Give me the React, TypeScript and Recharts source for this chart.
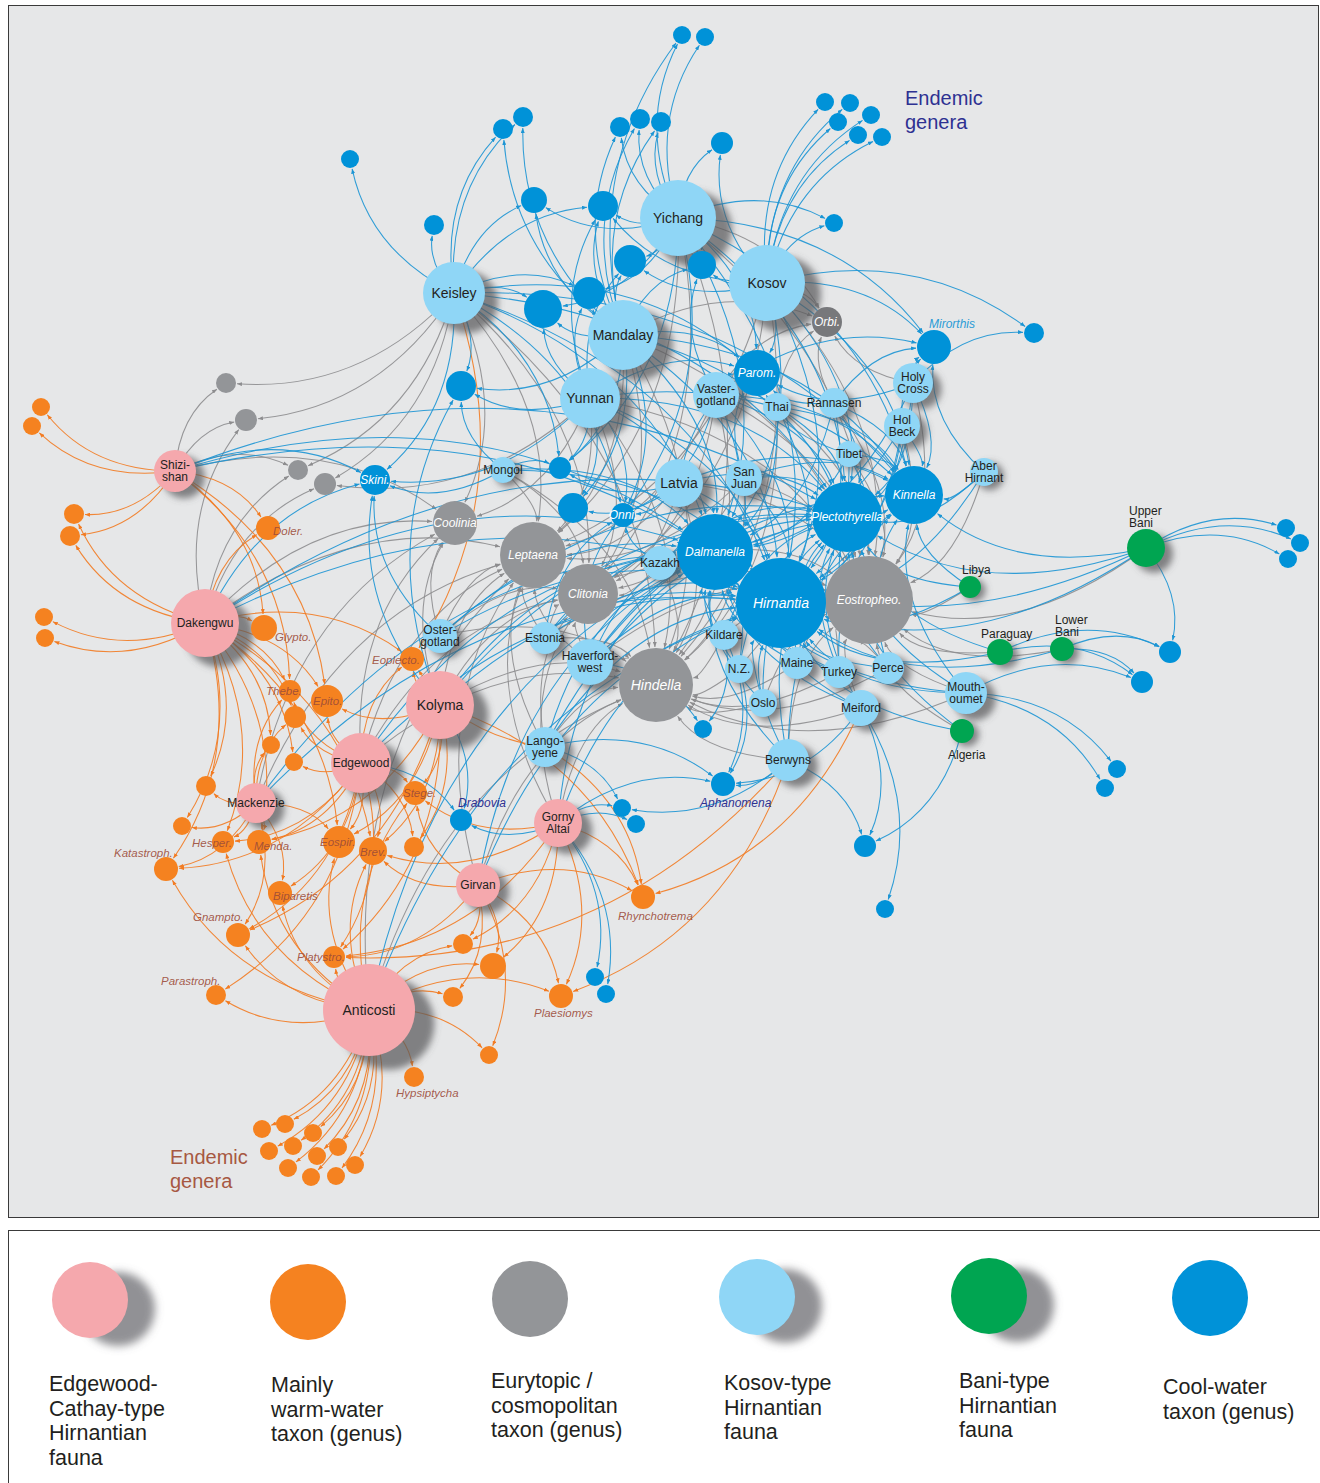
import { ScatterChart, Scatter, XAxis, YAxis, ZAxis, ReferenceLine } from 'recharts';

type Node = { id: string; x: number; y: number; w: number; label?: string };

// fauna (assemblages)
const edgewoodFauna: Node[] = [
  { id: 'shi', label: 'Shizi-\nshan', x: 175, y: 471, w: 21 },
  { id: 'dak', label: 'Dakengwu', x: 205, y: 623, w: 34 },
  { id: 'kol', label: 'Kolyma', x: 440, y: 705, w: 34 },
  { id: 'edg', label: 'Edgewood', x: 361, y: 763, w: 30 },
  { id: 'mac', label: 'Mackenzie', x: 256, y: 803, w: 20 },
  { id: 'gor', label: 'Gorny\nAltai', x: 558, y: 823, w: 24 },
  { id: 'gir', label: 'Girvan', x: 478, y: 885, w: 22 },
  { id: 'ant', label: 'Anticosti', x: 369, y: 1010, w: 46 },
];

const kosovFauna: Node[] = [
  { id: 'kei', label: 'Keisley', x: 454, y: 293, w: 31 },
  { id: 'yic', label: 'Yichang', x: 678, y: 218, w: 38 },
  { id: 'kos', label: 'Kosov', x: 767, y: 283, w: 38 },
  { id: 'man', label: 'Mandalay', x: 623, y: 335, w: 35 },
  { id: 'yun', label: 'Yunnan', x: 590, y: 398, w: 30 },
  { id: 'vas', label: 'Vaster-\ngotland', x: 716, y: 395, w: 23 },
  { id: 'tha', label: 'Thai', x: 777, y: 407, w: 14 },
  { id: 'ran', label: 'Rannasen', x: 834, y: 403, w: 15 },
  { id: 'hcr', label: 'Holy\nCross', x: 913, y: 383, w: 20 },
  { id: 'hbk', label: 'Hol\nBeck', x: 902, y: 426, w: 18 },
  { id: 'tib', label: 'Tibet', x: 849, y: 454, w: 13 },
  { id: 'abe', label: 'Aber\nHirnant', x: 984, y: 472, w: 14 },
  { id: 'mon', label: 'Mongol', x: 503, y: 470, w: 13 },
  { id: 'lat', label: 'Latvia', x: 679, y: 483, w: 24 },
  { id: 'sjn', label: 'San\nJuan', x: 744, y: 478, w: 18 },
  { id: 'kaz', label: 'Kazakh', x: 660, y: 563, w: 17 },
  { id: 'ost', label: 'Oster-\ngotland', x: 440, y: 636, w: 17 },
  { id: 'est', label: 'Estonia', x: 545, y: 638, w: 16 },
  { id: 'hav', label: 'Haverford-\nwest', x: 590, y: 662, w: 23 },
  { id: 'kil', label: 'Kildare', x: 724, y: 635, w: 15 },
  { id: 'nz', label: 'N.Z.', x: 739, y: 669, w: 14 },
  { id: 'mai', label: 'Maine', x: 797, y: 663, w: 16 },
  { id: 'tur', label: 'Turkey', x: 839, y: 672, w: 16 },
  { id: 'per', label: 'Perce', x: 888, y: 668, w: 16 },
  { id: 'osl', label: 'Oslo', x: 763, y: 703, w: 14 },
  { id: 'mei', label: 'Meiford', x: 861, y: 708, w: 18 },
  { id: 'mou', label: 'Mouth-\noumet', x: 966, y: 693, w: 21 },
  { id: 'lan', label: 'Lango-\nyene', x: 545, y: 747, w: 20 },
  { id: 'ber', label: 'Berwyns', x: 788, y: 760, w: 21 },
];

const baniFauna: Node[] = [
  { id: 'upb', label: 'Upper\nBani', x: 1146, y: 548, w: 19 },
  { id: 'lib', label: 'Libya', x: 970, y: 587, w: 11 },
  { id: 'prg', label: 'Paraguay', x: 1000, y: 652, w: 13 },
  { id: 'lob', label: 'Lower\nBani', x: 1062, y: 649, w: 12 },
  { id: 'alg', label: 'Algeria', x: 962, y: 731, w: 12 },
];

// genera
const warmTaxa: Node[] = [
  { id: 'dol', label: 'Doler.', x: 268, y: 528, w: 12 },
  { id: 'gly', label: 'Glypto.', x: 264, y: 628, w: 13 },
  { id: 'the', label: 'Thebe.', x: 290, y: 691, w: 11 },
  { id: 'epi', label: 'Epito.', x: 327, y: 701, w: 16 },
  { id: 'eop', label: 'Eoplecto.', x: 412, y: 659, w: 12 },
  { id: 'ste', label: 'Stege.', x: 415, y: 793, w: 12 },
  { id: 'hes', label: 'Hesper.', x: 223, y: 842, w: 11 },
  { id: 'men', label: 'Menda.', x: 259, y: 842, w: 12 },
  { id: 'esp', label: 'Eospir.', x: 339, y: 842, w: 16 },
  { id: 'bre', label: 'Brev.', x: 373, y: 851, w: 14 },
  { id: 'kat', label: 'Katastroph.', x: 166, y: 869, w: 12 },
  { id: 'bip', label: 'Biparetis', x: 280, y: 893, w: 12 },
  { id: 'gna', label: 'Gnampto.', x: 238, y: 935, w: 12 },
  { id: 'pla', label: 'Platystro.', x: 334, y: 957, w: 11 },
  { id: 'pst', label: 'Parastroph.', x: 216, y: 995, w: 10 },
  { id: 'rhy', label: 'Rhynchotrema', x: 643, y: 897, w: 12 },
  { id: 'plm', label: 'Plaesiomys', x: 561, y: 996, w: 12 },
  { id: 'hyp', label: 'Hypsiptycha', x: 414, y: 1077, w: 10 },
  { id: 'w1', x: 41, y: 407, w: 9 },
  { id: 'w2', x: 32, y: 426, w: 9 },
  { id: 'w3', x: 74, y: 514, w: 10 },
  { id: 'w4', x: 70, y: 536, w: 10 },
  { id: 'w5', x: 44, y: 617, w: 9 },
  { id: 'w6', x: 45, y: 638, w: 9 },
  { id: 'o1', x: 295, y: 717, w: 11 },
  { id: 'o2', x: 271, y: 745, w: 9 },
  { id: 'o3', x: 294, y: 762, w: 9 },
  { id: 'o4', x: 206, y: 786, w: 10 },
  { id: 'o5', x: 182, y: 826, w: 9 },
  { id: 'o6', x: 414, y: 847, w: 10 },
  { id: 'o7', x: 463, y: 944, w: 10 },
  { id: 'o8', x: 493, y: 966, w: 13 },
  { id: 'o9', x: 453, y: 997, w: 10 },
  { id: 'o10', x: 489, y: 1055, w: 9 },
  { id: 'n1', x: 262, y: 1129, w: 9 },
  { id: 'n2', x: 285, y: 1124, w: 9 },
  { id: 'n3', x: 313, y: 1133, w: 9 },
  { id: 'n4', x: 269, y: 1151, w: 9 },
  { id: 'n5', x: 293, y: 1146, w: 9 },
  { id: 'n6', x: 317, y: 1156, w: 9 },
  { id: 'n7', x: 338, y: 1147, w: 9 },
  { id: 'n8', x: 355, y: 1165, w: 9 },
  { id: 'n9', x: 288, y: 1168, w: 9 },
  { id: 'n10', x: 311, y: 1177, w: 9 },
  { id: 'n11', x: 336, y: 1176, w: 9 },
];

const eurytopicTaxa: Node[] = [
  { id: 'orb', label: 'Orbi.', x: 827, y: 322, w: 15 },
  { id: 'coo', label: 'Coolinia', x: 455, y: 523, w: 22 },
  { id: 'lep', label: 'Leptaena', x: 533, y: 555, w: 33 },
  { id: 'cli', label: 'Clitonia', x: 588, y: 594, w: 30 },
  { id: 'hin', label: 'Hindella', x: 656, y: 685, w: 37 },
  { id: 'eos', label: 'Eostropheo.', x: 869, y: 600, w: 44 },
  { id: 'g1', x: 226, y: 383, w: 10 },
  { id: 'g2', x: 246, y: 420, w: 11 },
  { id: 'g3', x: 298, y: 470, w: 10 },
  { id: 'g4', x: 325, y: 484, w: 11 },
];

const coolTaxa: Node[] = [
  { id: 'hir', label: 'Hirnantia', x: 781, y: 603, w: 45 },
  { id: 'dal', label: 'Dalmanella', x: 715, y: 552, w: 38 },
  { id: 'ple', label: 'Plectothyrella', x: 847, y: 517, w: 35 },
  { id: 'kin', label: 'Kinnella', x: 914, y: 495, w: 29 },
  { id: 'par', label: 'Parom.', x: 757, y: 373, w: 23 },
  { id: 'mir', label: 'Mirorthis', x: 934, y: 347, w: 17 },
  { id: 'ski', label: 'Skini.', x: 375, y: 480, w: 15 },
  { id: 'onn', label: 'Onni.', x: 623, y: 515, w: 12 },
  { id: 'dra', label: 'Drabovia', x: 461, y: 820, w: 11 },
  { id: 'aph', label: 'Aphanomena', x: 723, y: 784, w: 12 },
  { id: 't1', x: 682, y: 35, w: 9 },
  { id: 't2', x: 705, y: 37, w: 9 },
  { id: 't3', x: 503, y: 129, w: 10 },
  { id: 't4', x: 523, y: 117, w: 10 },
  { id: 't5', x: 620, y: 127, w: 10 },
  { id: 't6', x: 640, y: 119, w: 10 },
  { id: 't7', x: 661, y: 122, w: 10 },
  { id: 't8', x: 722, y: 143, w: 11 },
  { id: 't9', x: 350, y: 159, w: 9 },
  { id: 't10', x: 434, y: 225, w: 10 },
  { id: 't11', x: 534, y: 200, w: 13 },
  { id: 't12', x: 603, y: 206, w: 15 },
  { id: 't13', x: 630, y: 261, w: 16 },
  { id: 't14', x: 702, y: 265, w: 14 },
  { id: 't15', x: 543, y: 309, w: 19 },
  { id: 't16', x: 589, y: 293, w: 16 },
  { id: 't17', x: 461, y: 386, w: 15 },
  { id: 'e1', x: 825, y: 102, w: 9 },
  { id: 'e2', x: 850, y: 103, w: 9 },
  { id: 'e3', x: 871, y: 115, w: 9 },
  { id: 'e4', x: 838, y: 122, w: 9 },
  { id: 'e5', x: 858, y: 135, w: 9 },
  { id: 'e6', x: 882, y: 137, w: 9 },
  { id: 'bk', x: 834, y: 223, w: 9 },
  { id: 'bm', x: 1034, y: 333, w: 10 },
  { id: 'c1', x: 560, y: 468, w: 11 },
  { id: 'c2', x: 573, y: 508, w: 15 },
  { id: 'u1', x: 1286, y: 528, w: 9 },
  { id: 'u2', x: 1300, y: 543, w: 9 },
  { id: 'u3', x: 1288, y: 559, w: 9 },
  { id: 'l1', x: 1170, y: 652, w: 11 },
  { id: 'l2', x: 1142, y: 682, w: 11 },
  { id: 'm1', x: 1117, y: 769, w: 9 },
  { id: 'm2', x: 1105, y: 788, w: 9 },
  { id: 'h1', x: 703, y: 729, w: 9 },
  { id: 'gg1', x: 622, y: 808, w: 9 },
  { id: 'gg2', x: 636, y: 824, w: 9 },
  { id: 's1', x: 865, y: 846, w: 11 },
  { id: 's2', x: 885, y: 909, w: 9 },
  { id: 'a1', x: 595, y: 977, w: 9 },
  { id: 'a2', x: 606, y: 994, w: 9 },
];

// fauna -> genera occurrences
const links: [string, string[]][] = [
  ['shi', ['w1', 'w2', 'w3', 'w4', 'g1', 'g2', 'g3', 'dol', 'gly', 'the', 'coo', 'hir', 'dal', 'ple', 'ski', 'epi']],
  ['dak', ['w3', 'w4', 'w5', 'w6', 'gly', 'dol', 'the', 'epi', 'o1', 'o2', 'o3', 'o4', 'o5', 'kat', 'hes', 'men', 'esp', 'bre', 'eop', 'coo', 'lep', 'g2', 'g3', 'g4', 'hir', 'dal', 'ple', 'ski']],
  ['mac', ['the', 'o1', 'o2', 'o4', 'o5', 'hes', 'men', 'kat', 'bip', 'esp', 'gna', 'hir', 'dal', 'lep', 'coo']],
  ['edg', ['epi', 'the', 'o1', 'o3', 'ste', 'esp', 'bre', 'men', 'hes', 'bip', 'gna', 'pla', 'pst', 'o6', 'kat', 'eop', 'dra', 'hir', 'dal', 'lep', 'cli', 'hin', 'coo']],
  ['kol', ['eop', 'epi', 'ste', 'o6', 'bre', 'esp', 'men', 'pla', 'gna', 'rhy', 'dra', 'hir', 'dal', 'ple', 'lep', 'cli', 'hin', 'coo', 'ski', 't17']],
  ['gir', ['o7', 'o8', 'o9', 'o10', 'plm', 'pla', 'bre', 'ste', 'rhy', 'hir', 'dal', 'lep', 'hin']],
  ['gor', ['gg1', 'gg2', 'dra', 'aph', 'rhy', 'o7', 'o8', 'plm', 'pla', 'bre', 'ste', 'a1', 'a2', 'hir', 'dal', 'lep', 'cli', 'hin']],
  ['ant', ['n1', 'n2', 'n3', 'n4', 'n5', 'n6', 'n7', 'n8', 'n9', 'n10', 'n11', 'hyp', 'pla', 'pst', 'gna', 'bip', 'o7', 'o8', 'o9', 'o10', 'esp', 'bre', 'plm', 'kat', 'men', 'hes', 'ste', 'hir', 'dal', 'lep', 'hin']],
  ['kei', ['t9', 't10', 't3', 't4', 't11', 't15', 't16', 't17', 't12', 'ski', 'g1', 'g2', 'g3', 'g4', 'coo', 'lep', 'cli', 'hin', 'hir', 'dal', 'ple', 'par', 'onn', 'c1', 'eop', 'kin']],
  ['yic', ['t1', 't2', 't5', 't6', 't7', 't8', 't11', 't12', 't13', 't14', 't15', 't16', 'par', 'mir', 'orb', 'hir', 'dal', 'ple', 'kin', 'lep', 'cli', 'hin', 'eos', 'onn', 'c1', 'bk']],
  ['kos', ['e1', 'e2', 'e3', 'e4', 'e5', 'e6', 'bk', 't8', 't13', 't14', 'mir', 'orb', 'par', 'bm', 'hir', 'dal', 'ple', 'kin', 'eos', 'hin', 'cli', 'lep', 't12']],
  ['man', ['t1', 't3', 't4', 't5', 't6', 't7', 't11', 't12', 't13', 't14', 't15', 't16', 't17', 'par', 'hir', 'dal', 'ple', 'kin', 'lep', 'cli', 'hin', 'eos', 'onn', 'c1', 'c2', 'orb']],
  ['yun', ['t17', 't15', 't16', 't13', 'c1', 'c2', 'onn', 'ski', 'par', 'hir', 'dal', 'ple', 'kin', 'lep', 'cli', 'hin', 'eos', 'coo', 'g4', 't12']],
  ['vas', ['par', 'hir', 'dal', 'ple', 'kin', 'lep', 'cli', 'hin', 'eos', 'orb', 't14', 'onn', 'mir']],
  ['tha', ['par', 'hir', 'dal', 'ple', 'kin', 'hin', 'eos', 'orb']],
  ['ran', ['hir', 'dal', 'ple', 'kin', 'mir', 'eos', 'orb', 'par']],
  ['hcr', ['mir', 'kin', 'ple', 'hir', 'dal', 'eos', 'bm', 'orb', 'par']],
  ['hbk', ['mir', 'kin', 'ple', 'hir', 'eos', 'dal']],
  ['tib', ['hir', 'ple', 'kin', 'dal', 'eos', 'par']],
  ['abe', ['kin', 'ple', 'hir', 'mir', 'eos']],
  ['mon', ['ski', 't17', 'c1', 'lep', 'cli', 'hin', 'hir', 'dal']],
  ['lat', ['hir', 'dal', 'ple', 'kin', 'par', 'lep', 'cli', 'hin', 'eos', 'onn', 'c2', 'c1']],
  ['sjn', ['hir', 'dal', 'ple', 'kin', 'par', 'lep', 'cli', 'hin', 'eos']],
  ['kaz', ['hir', 'dal', 'ple', 'lep', 'cli', 'hin', 'eos', 'onn']],
  ['ost', ['lep', 'cli', 'hin', 'hir', 'dal', 'ple', 'coo', 'ski']],
  ['est', ['lep', 'cli', 'hin', 'hir', 'dal', 'ple', 'eos', 'onn']],
  ['hav', ['lep', 'cli', 'hin', 'hir', 'dal', 'ple', 'kin', 'eos', 'h1', 'onn']],
  ['kil', ['hir', 'dal', 'ple', 'hin', 'eos', 'h1', 'aph']],
  ['nz', ['hir', 'dal', 'ple', 'eos', 'hin', 'aph']],
  ['mai', ['hir', 'dal', 'ple', 'eos', 'hin', 'kin']],
  ['tur', ['hir', 'dal', 'ple', 'eos', 'hin', 'kin']],
  ['per', ['hir', 'ple', 'eos', 'kin', 'hin']],
  ['osl', ['hir', 'dal', 'ple', 'hin', 'eos']],
  ['mei', ['hir', 'dal', 'ple', 'eos', 'hin', 's1', 's2', 'rhy', 'aph']],
  ['mou', ['m1', 'm2', 'l2', 'hir', 'eos', 'ple', 'kin', 'dal', 'hin']],
  ['lan', ['hir', 'dal', 'ple', 'lep', 'cli', 'hin', 'aph', 'gg1', 'rhy', 'eop']],
  ['ber', ['aph', 's1', 'hir', 'dal', 'ple', 'kin', 'eos', 'hin', 'plm', 'pla', 'gg1']],
  ['upb', ['u1', 'u2', 'u3', 'l1', 'kin', 'ple', 'hir', 'eos', 'dal']],
  ['lib', ['hir', 'ple', 'eos', 'kin']],
  ['prg', ['hir', 'eos', 'ple', 'l1', 'l2']],
  ['lob', ['l1', 'l2', 'hir', 'eos']],
  ['alg', ['s1', 'hir', 'eos', 'ple']],
];

const COLORS = {
  edgewood: '#f5a8ad',
  warm: '#f58220',
  eury: '#939598',
  kosov: '#8fd6f6',
  bani: '#00a551',
  cool: '#0092d8',
};
const EDGE_COLORS: Record<string, string> = { warm: '#f27b22', eury: '#8d8d8f', cool: '#1c95d4' };
const FONT = '"Liberation Sans", Arial, Helvetica, sans-serif';
const BEND = 0.24;

// label placement for labels drawn beside their node
const labelPos: Record<string, { dx: number; dy: number }> = {
  dol: { dx: 5, dy: 3 },
  gly: { dx: 11, dy: 9 },
  the: { dx: -24, dy: 0 },
  epi: { dx: -14, dy: 0 },
  eop: { dx: -40, dy: 1 },
  ste: { dx: -12, dy: 0 },
  hes: { dx: -31, dy: 1 },
  men: { dx: -5, dy: 4 },
  esp: { dx: -19, dy: 0 },
  bre: { dx: -13, dy: 1 },
  kat: { dx: -52, dy: -16 },
  bip: { dx: -7, dy: 3 },
  gna: { dx: -45, dy: -18 },
  pla: { dx: -37, dy: 0 },
  pst: { dx: -55, dy: -14 },
  rhy: { dx: -25, dy: 19 },
  plm: { dx: -27, dy: 17 },
  hyp: { dx: -18, dy: 16 },
  mir: { dx: -5, dy: -23 },
  dra: { dx: -3, dy: -17 },
  aph: { dx: -23, dy: 19 },
  upb: { dx: -17, dy: -31 },
  lib: { dx: -8, dy: -17 },
  prg: { dx: -19, dy: -18 },
  lob: { dx: -7, dy: -23 },
  alg: { dx: -14, dy: 24 },
};
const labelColor: Record<string, string> = { mir: '#2a9bd6', dra: '#2e3192', aph: '#2e3192' };
const fillOverride: Record<string, string> = { orb: '#77787b' };
const bigLabels = ['kei', 'yic', 'kos', 'man', 'yun', 'kol', 'ant', 'lat', 'hir', 'hin'];

const legendItems = [
  { lines: ['Edgewood-', 'Cathay-type', 'Hirnantian', 'fauna'], color: COLORS.edgewood, shadow: true },
  { lines: ['Mainly', 'warm-water', 'taxon (genus)'], color: COLORS.warm, shadow: false },
  { lines: ['Eurytopic /', 'cosmopolitan', 'taxon (genus)'], color: COLORS.eury, shadow: false },
  { lines: ['Kosov-type', 'Hirnantian', 'fauna'], color: COLORS.kosov, shadow: true },
  { lines: ['Bani-type', 'Hirnantian', 'fauna'], color: COLORS.bani, shadow: true },
  { lines: ['Cool-water', 'taxon (genus)'], color: COLORS.cool, shadow: false },
];
const legendLayout = [
  { cx: 90, cy: 1300, tx: 49, ty: 1384 },
  { cx: 308, cy: 1302, tx: 271, ty: 1385 },
  { cx: 530, cy: 1299, tx: 491, ty: 1381 },
  { cx: 757, cy: 1297, tx: 724, ty: 1383 },
  { cx: 989, cy: 1296, tx: 959, ty: 1381 },
  { cx: 1210, cy: 1298, tx: 1163, ty: 1387 },
];

const typeOf: Record<string, string> = {};
const nodeById: Record<string, Node> = {};
[
  ['edgewood', edgewoodFauna],
  ['kosov', kosovFauna],
  ['bani', baniFauna],
  ['warm', warmTaxa],
  ['eury', eurytopicTaxa],
  ['cool', coolTaxa],
].forEach(([t, list]: any) => {
  list.forEach((n: Node) => {
    typeOf[n.id] = t;
    nodeById[n.id] = n;
  });
});

const edges = links.flatMap(([from, targets]) =>
  targets.map((to) => ({ from: nodeById[from], to: nodeById[to], kind: typeOf[to] }))
);
const edgeOrder = ['eury', 'warm', 'cool'];
edges.sort((a, b) => edgeOrder.indexOf(a.kind) - edgeOrder.indexOf(b.kind));

const CurvedEdge = ({ x1, y1, x2, y2, tr, kind }: any) => {
  const dx = x2 - x1;
  const dy = y2 - y1;
  const qx = (x1 + x2) / 2 + dy * BEND;
  const qy = (y1 + y2) / 2 - dx * BEND;
  const tx = x2 - qx;
  const ty = y2 - qy;
  const tl = Math.hypot(tx, ty) || 1;
  const ex = x2 - (tx / tl) * (tr + 1);
  const ey = y2 - (ty / tl) * (tr + 1);
  return (
    <path
      d={`M${x1},${y1} Q${qx},${qy} ${ex},${ey}`}
      fill="none"
      stroke={EDGE_COLORS[kind]}
      strokeWidth={1.05}
      strokeOpacity={0.9}
      markerEnd={`url(#arrow-${kind})`}
    />
  );
};

const makeNode = (fill: string, kind: 'fauna' | 'warm' | 'genus') => (props: any) => {
  const { cx, cy, payload } = props;
  const r = props.size ?? payload.w;
  const lines: string[] = payload.label ? payload.label.split('\n') : [];
  const pos = labelPos[payload.id];
  const fs = bigLabels.includes(payload.id) ? 14 : kind === 'warm' ? 11.5 : 12;
  const color =
    labelColor[payload.id] ?? (kind === 'fauna' ? '#231f20' : kind === 'warm' ? '#9c4b38' : '#ffffff');
  const tx = cx + (pos ? pos.dx : 0);
  const ty = cy + (pos ? pos.dy : 0) - ((lines.length - 1) * fs * 1.08) / 2;
  return (
    <g>
      <circle cx={cx} cy={cy} r={r} fill={fillOverride[payload.id] ?? fill} />
      {lines.length > 0 && (
        <text
          x={tx}
          y={ty}
          textAnchor={pos ? 'start' : 'middle'}
          dominantBaseline="central"
          fontSize={fs}
          fontStyle={kind === 'fauna' ? 'normal' : 'italic'}
          fill={color}
          fillOpacity={kind === 'warm' ? 0.9 : 1}
          fontFamily={FONT}
        >
          {lines.map((l, i) => (
            <tspan key={i} x={tx} dy={i === 0 ? 0 : fs * 1.08}>
              {l}
            </tspan>
          ))}
        </text>
      )}
    </g>
  );
};

const ShadowShape = (props: any) => {
  const r = props.size ?? props.payload.w;
  return (
    <circle
      cx={props.cx + r * 0.42}
      cy={props.cy + r * 0.3}
      r={r}
      fill="#58595b"
      fillOpacity={0.72}
      filter="url(#nodeShadow)"
    />
  );
};

const NetworkChart = () => (
  <ScatterChart width={1320} height={1220} margin={{ top: 0, right: 0, bottom: 0, left: 0 }}>
    <XAxis type="number" dataKey="x" domain={[0, 1320]} hide allowDataOverflow />
    <YAxis type="number" dataKey="y" domain={[0, 1220]} reversed hide allowDataOverflow />
    <ZAxis type="number" dataKey="w" domain={[0, 50]} range={[0, 50]} />
    {edges.map((e, i) => (
      <ReferenceLine
        key={`edge-${i}`}
        segment={[
          { x: e.from.x, y: e.from.y },
          { x: e.to.x, y: e.to.y },
        ]}
        ifOverflow="visible"
        shape={(p: any) => <CurvedEdge {...p} tr={e.to.w} kind={e.kind} />}
      />
    ))}
    <Scatter data={[...edgewoodFauna, ...kosovFauna, ...baniFauna]} shape={ShadowShape} isAnimationActive={false} />
    <Scatter data={eurytopicTaxa} shape={makeNode(COLORS.eury, 'genus')} isAnimationActive={false} />
    <Scatter data={coolTaxa} shape={makeNode(COLORS.cool, 'genus')} isAnimationActive={false} />
    <Scatter data={warmTaxa} shape={makeNode(COLORS.warm, 'warm')} isAnimationActive={false} />
    <Scatter data={baniFauna} shape={makeNode(COLORS.bani, 'fauna')} isAnimationActive={false} />
    <Scatter data={edgewoodFauna} shape={makeNode(COLORS.edgewood, 'fauna')} isAnimationActive={false} />
    <Scatter data={kosovFauna} shape={makeNode(COLORS.kosov, 'fauna')} isAnimationActive={false} />
  </ScatterChart>
);

const App = () => {
  return (
    <div style={{ position: 'absolute', left: 0, top: 0, width: 1320, height: 1483, background: '#fff', overflow: 'hidden', fontFamily: FONT }}>
      <svg width={0} height={0} style={{ position: 'absolute' }}>
        <defs>
          <filter id="nodeShadow" x="-50%" y="-50%" width="200%" height="200%">
            <feGaussianBlur stdDeviation={3.5} />
          </filter>
          <filter id="legendShadow" x="-50%" y="-50%" width="200%" height="200%">
            <feGaussianBlur stdDeviation={4.5} />
          </filter>
          {Object.keys(EDGE_COLORS).map((k) => (
            <marker
              key={k}
              id={`arrow-${k}`}
              markerWidth={5}
              markerHeight={4}
              refX={5}
              refY={2}
              orient="auto"
              markerUnits="userSpaceOnUse"
            >
              <path d="M0,0 L5,2 L0,4 z" fill={EDGE_COLORS[k]} />
            </marker>
          ))}
        </defs>
      </svg>

      <div
        style={{
          position: 'absolute',
          left: 8,
          top: 5,
          width: 1311,
          height: 1213,
          boxSizing: 'border-box',
          border: '1.5px solid #3a3a3a',
          background: '#e6e7e8',
        }}
      />
      <div style={{ position: 'absolute', left: 0, top: 0 }}>
        <NetworkChart />
      </div>

      <div style={{ position: 'absolute', left: 905, top: 86, color: '#2e3192', fontSize: 20, lineHeight: '24px' }}>
        Endemic
        <br />
        genera
      </div>
      <div style={{ position: 'absolute', left: 170, top: 1145, color: '#a65842', fontSize: 20, lineHeight: '24px' }}>
        Endemic
        <br />
        genera
      </div>

      <div
        style={{
          position: 'absolute',
          left: 8,
          top: 1230,
          width: 1320,
          height: 270,
          boxSizing: 'border-box',
          borderTop: '1.5px solid #3a3a3a',
          borderLeft: '1.5px solid #3a3a3a',
          background: '#fff',
        }}
      />
      <svg width={1320} height={1483} style={{ position: 'absolute', left: 0, top: 0, pointerEvents: 'none' }}>
        {legendItems.map((item, i) => {
          const L = legendLayout[i];
          return (
            <g key={i}>
              {item.shadow && (
                <circle cx={L.cx + 28} cy={L.cy + 9} r={37} fill="#6d6e71" fillOpacity={0.75} filter="url(#legendShadow)" />
              )}
              <circle cx={L.cx} cy={L.cy} r={38} fill={item.color} />
              <text x={L.tx} y={L.ty} fontSize={21.5} fill="#231f20" fontFamily={FONT} dominantBaseline="central">
                {item.lines.map((l, j) => (
                  <tspan key={j} x={L.tx} dy={j === 0 ? 0 : 24.5}>
                    {l}
                  </tspan>
                ))}
              </text>
            </g>
          );
        })}
      </svg>
    </div>
  );
};

export default App;
